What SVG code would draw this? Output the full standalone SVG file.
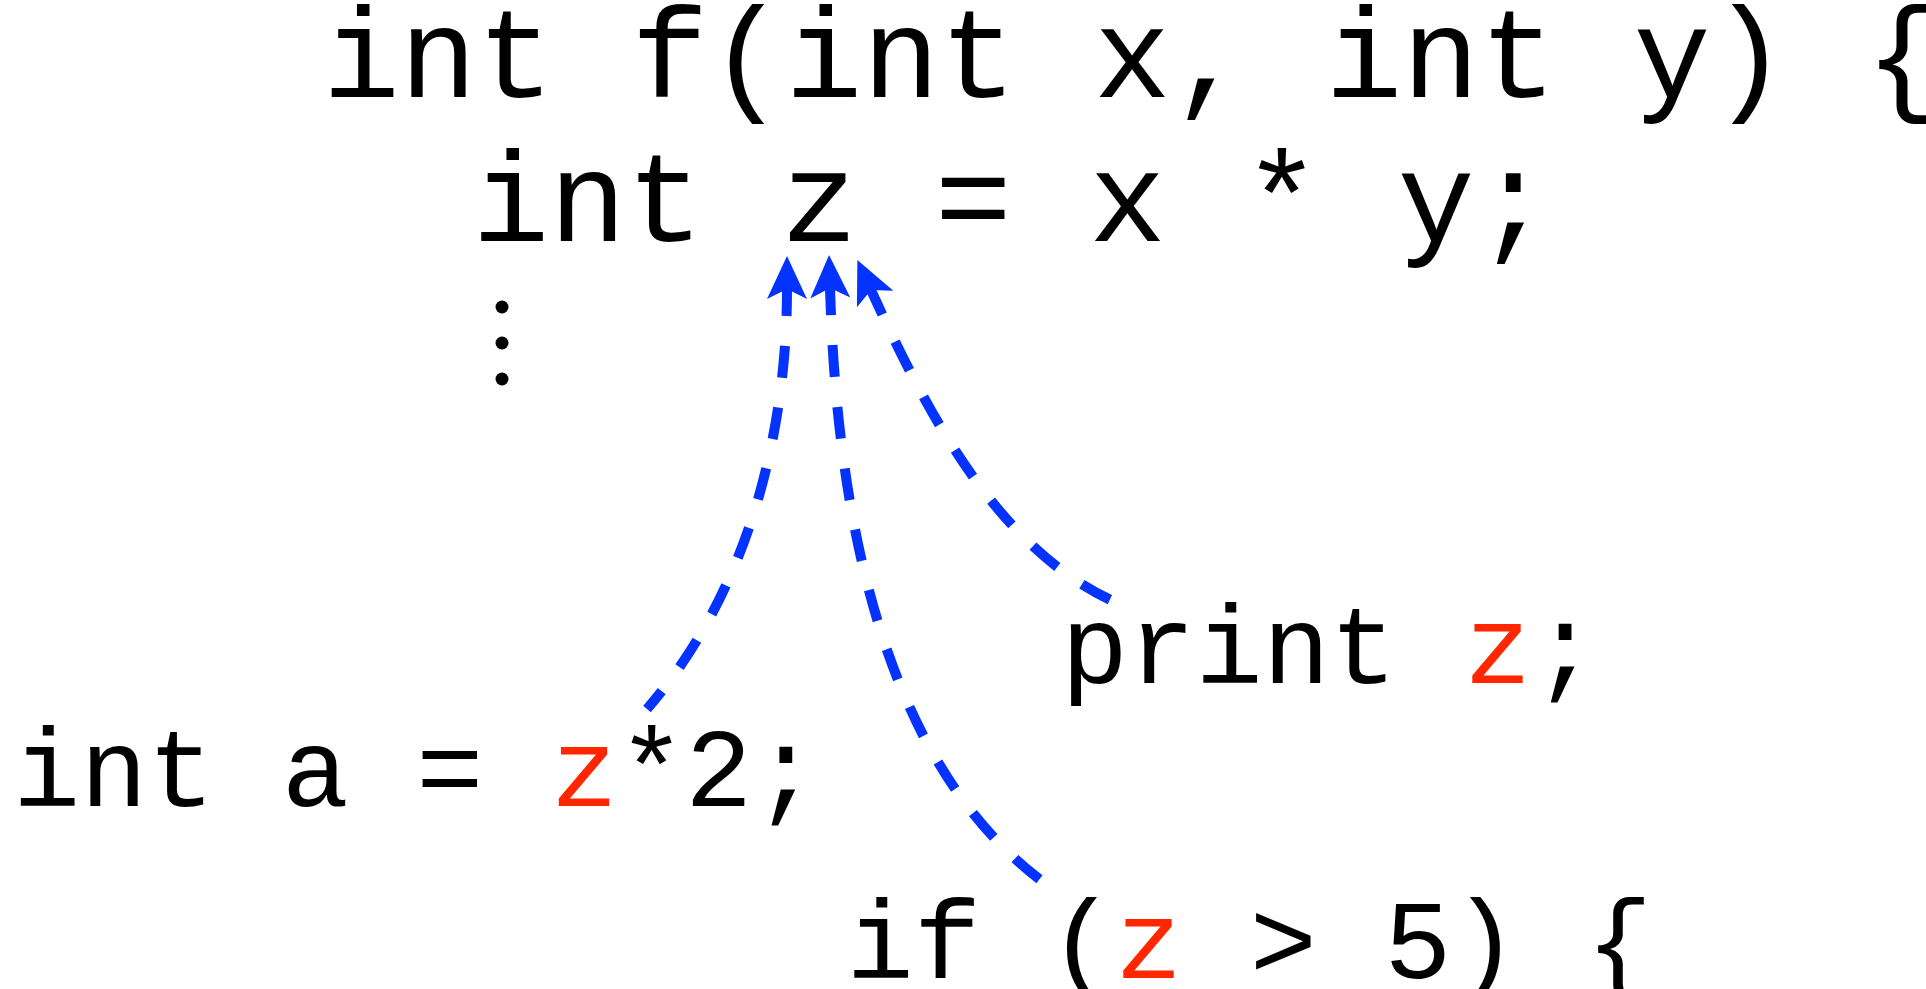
<svg xmlns="http://www.w3.org/2000/svg" width="1926" height="989" viewBox="0 0 1926 989">
<style>
  .code { font-family: "Liberation Mono", "Courier New", monospace; fill: #000; }
  .big { font-size: 128.5px; }
  .small { font-size: 112px; }
  .hl { fill: #ff2600; }
  .dep { fill: none; stroke: #0433ff; stroke-width: 10; stroke-dasharray: 32 30; stroke-dashoffset: 5; marker-start: url(#head); }
</style>
<defs>
  <marker id="head" markerUnits="userSpaceOnUse" viewBox="-12 -24 48 48" refX="0" refY="0" markerWidth="48" markerHeight="48" orient="auto-start-reverse">
    <path d="M 33 0 L -10 -20 L 0 0 L -10 20 Z" fill="#0433ff"/>
  </marker>
</defs>
<rect width="1926" height="989" fill="#fff"/>
<g id="def-f">
  <text class="code big" x="322.7" y="97" xml:space="preserve">int f(int x, int y) {</text>
</g>
<g id="def-z">
  <text class="code big" x="472.2" y="241" xml:space="preserve">int z = x * y;</text>
</g>
<g id="ellipsis">
  <circle cx="502" cy="307" r="6.5" fill="#000"/>
  <circle cx="502" cy="343" r="6.5" fill="#000"/>
  <circle cx="502" cy="379" r="6.5" fill="#000"/>
</g>
<g id="use-print">
  <text class="code small" x="1061" y="683" xml:space="preserve">print <tspan class="hl">z</tspan>;</text>
</g>
<g id="use-a">
  <text class="code small" x="13" y="806" xml:space="preserve">int a = <tspan class="hl">z</tspan>*2;</text>
</g>
<g id="use-if">
  <text class="code small" x="846.5" y="978" xml:space="preserve">if (<tspan class="hl">z</tspan> &gt; 5) {</text>
</g>
<g id="connectors">
  <path class="dep" d="M 787 289 C 787 430, 750 590, 647 709"/>
  <path class="dep" d="M 830 288 C 838 560, 900 780, 1050 887"/>
  <path class="dep" d="M 871 290 C 930 420, 1000 550, 1115 602"/>
</g>
</svg>
